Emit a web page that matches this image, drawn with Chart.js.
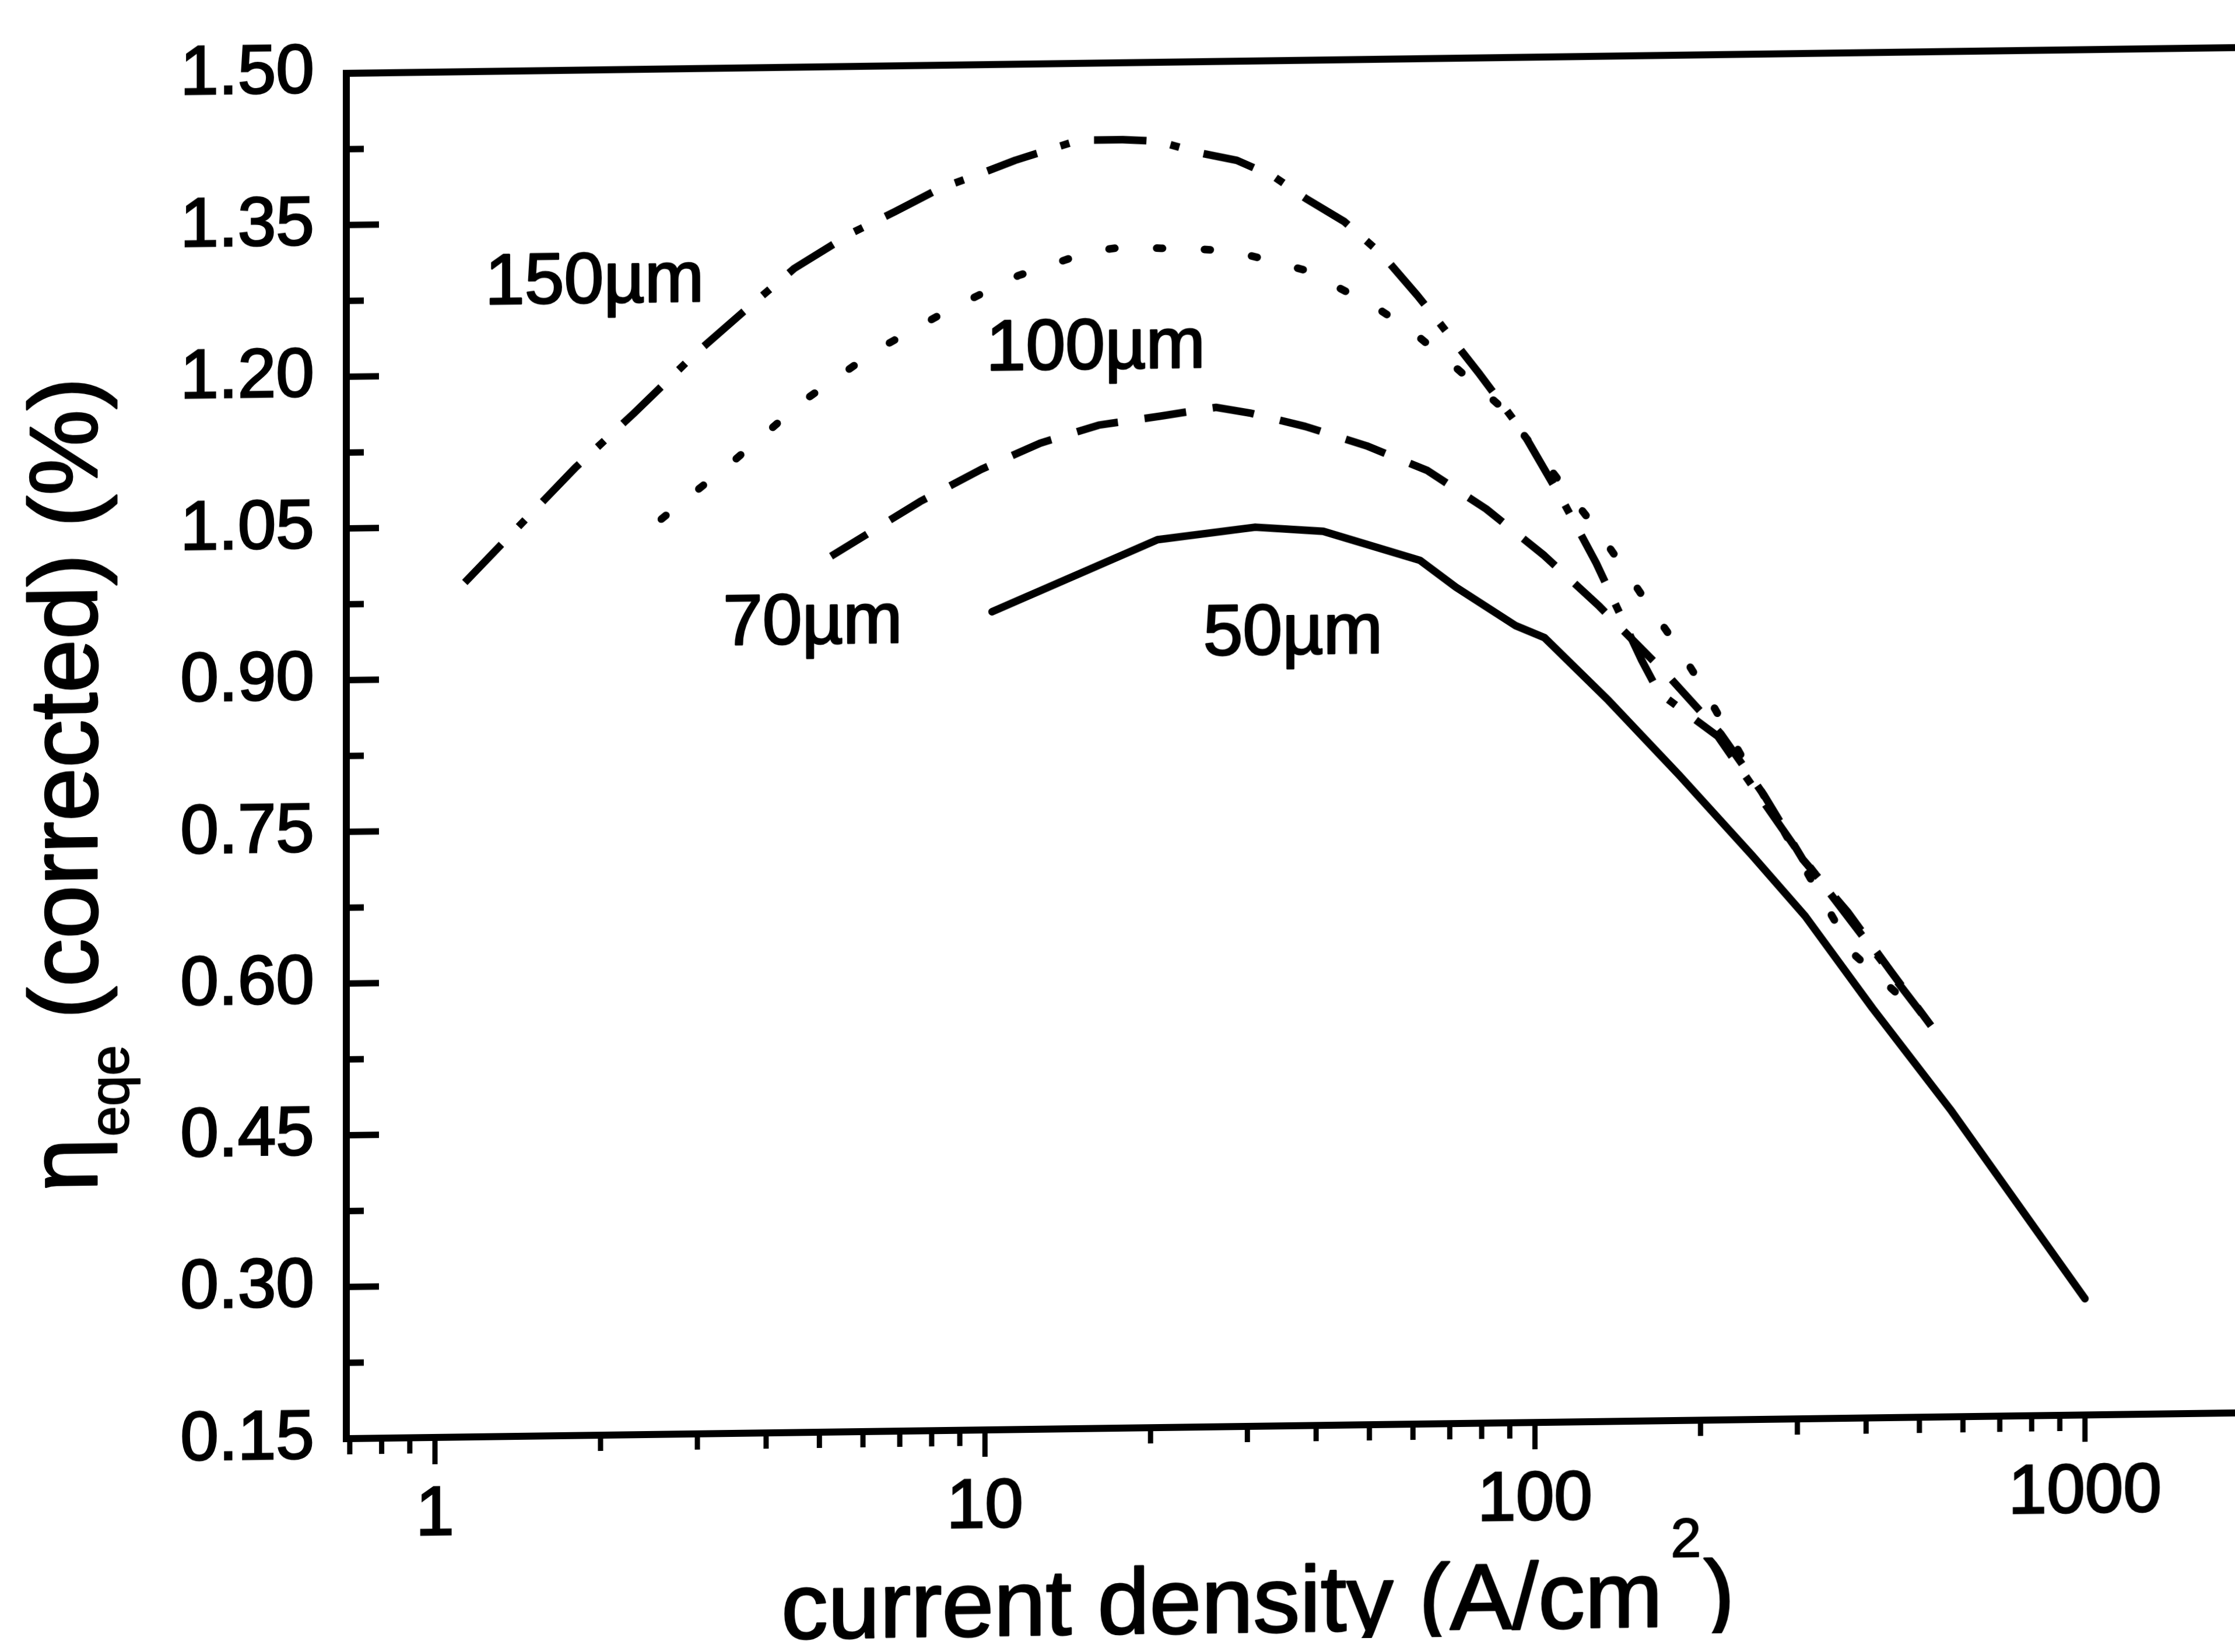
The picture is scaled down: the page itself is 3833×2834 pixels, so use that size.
<!DOCTYPE html>
<html>
<head>
<meta charset="utf-8">
<title>EQE vs current density</title>
<script src="https://cdn.jsdelivr.net/npm/chart.js@4.4.1/dist/chart.umd.min.js"></script>
<style>
  html, body { margin: 0; padding: 0; background: #fff; overflow: hidden; }
  /* the printed figure sits slightly tilted on the page */
  #plot { display: block; transform: skewY(-0.78deg); transform-origin: 594px 0; }
</style>
</head>
<body>
<canvas id="plot" width="3900" height="2834"></canvas>
<script>
const FONT = '"Liberation Sans", Arial, Helvetica, sans-serif';

// axis ticks
const xTickValues = [1, 10, 100, 1000];
const yTickValues = [0.15, 0.30, 0.45, 0.60, 0.75, 0.90, 1.05, 1.20, 1.35, 1.50];

// 50 µm device (solid)
const current50 = [10.3, 20.6, 31, 41.2, 61.8, 71.8, 92.3, 104, 136, 183, 248, 310, 411, 569, 1000];
const eqe50 = [0.959, 1.028, 1.039, 1.034, 1.004, 0.977, 0.938, 0.926, 0.863, 0.788, 0.708, 0.647, 0.555, 0.454, 0.265];

// 70 µm device (dashed)
const current70 = [5.25, 7.63, 9.86, 12.6, 16.1, 20.8, 26.3, 30.3, 38.2, 49.4, 63.6, 81.5, 104, 131, 175, 218, 261, 307, 371, 444, 525];
const eqe70 = [1.016, 1.069, 1.100, 1.125, 1.142, 1.150, 1.158, 1.152, 1.138, 1.118, 1.093, 1.054, 1.007, 0.956, 0.886, 0.828, 0.767, 0.703, 0.650, 0.591, 0.537];

// 100 µm device (dotted)
const current100 = [2.58, 3.50, 4.68, 6.34, 8.60, 11.5, 15.6, 18.05, 20.9, 24.1, 28.3, 32.7, 37.9, 44.2, 51.0, 59.3, 68.8, 87.9, 130, 144, 159, 176, 194, 212, 338, 383, 495];
const eqe100 = [1.055, 1.112, 1.170, 1.219, 1.258, 1.291, 1.314, 1.318, 1.316, 1.315, 1.312, 1.303, 1.293, 1.274, 1.256, 1.232, 1.203, 1.152, 1.031, 0.996, 0.961, 0.926, 0.890, 0.854, 0.657, 0.607, 0.551];

// 150 µm device (dash-dot)
const current150 = [1.133, 1.428, 1.80, 2.30, 2.96, 3.64, 4.50, 5.71, 6.87, 8.26, 9.56, 11.35, 14.8, 17.8, 20.6, 24.5, 28.7, 33.6, 38.4, 45.0, 52.7, 61.1, 67.4, 79.4, 94.9, 112.6, 129.2, 156.4, 168, 215, 300, 450, 505];
const eqe150 = [0.995, 1.051, 1.107, 1.160, 1.217, 1.259, 1.301, 1.335, 1.356, 1.378, 1.390, 1.405, 1.424, 1.424, 1.422, 1.410, 1.402, 1.385, 1.363, 1.340, 1.307, 1.266, 1.237, 1.187, 1.130, 1.060, 0.999, 0.902, 0.870, 0.826, 0.712, 0.585, 0.549];

// curve names, written next to each curve
const curveLabels = ['150\u00B5m', '100\u00B5m', '70\u00B5m', '50\u00B5m'];
const labelCurrent = [1.95, 15.9, 4.86, 36.3];
const labelEqe = [1.27, 1.198, 0.930, 0.913];

function toPoints(xs, ys) {
    return xs.map((x, i) => ({ x, y: ys[i] }));
}

function curve(label, xs, ys, dash, cap) {
    return {
        label,
        data: toPoints(xs, ys),
        borderColor: '#000',
        borderWidth: 13,
        borderDash: dash,
        borderCapStyle: cap,
        borderJoinStyle: 'round',
        pointRadius: 0,
        tension: 0,
        fill: false
    };
}

// filled text with a thin outline so it reads as heavy as the print
function heavyText(ctx, text, x, y, stroke) {
    ctx.lineWidth = stroke;
    ctx.lineJoin = 'round';
    ctx.strokeText(text, x, y);
    ctx.fillText(text, x, y);
}

// frame, inward y ticks, hanging x ticks, curve names and axis titles
const decorations = {
    id: 'decorations',
    afterDraw(chart) {
        const { ctx, chartArea: a, scales: { x, y } } = chart;
        ctx.save();
        ctx.strokeStyle = '#000';
        ctx.fillStyle = '#000';
        ctx.lineCap = 'butt';

        const seg = (x1, y1, x2, y2) => {
            ctx.beginPath();
            ctx.moveTo(x1, y1);
            ctx.lineTo(x2, y2);
            ctx.stroke();
        };

        ctx.lineWidth = 12;
        ctx.strokeRect(a.left, a.top, a.right - a.left, a.bottom - a.top);

        ctx.lineWidth = 11;
        yTickValues.forEach((v, i) => {
            const py = y.getPixelForValue(v);
            seg(a.left, py, a.left + 56, py);
            if (i < yTickValues.length - 1) {
                const pm = y.getPixelForValue(v + 0.075);
                seg(a.left, pm, a.left + 30, pm);
            }
        });

        ctx.lineWidth = 9;
        [0.1, 1, 10, 100, 1000].forEach(decade => {
            for (let k = 1; k <= 9; k++) {
                const v = k * decade;
                if (v < x.min || v > x.max) continue;
                const px = x.getPixelForValue(v);
                seg(px, a.bottom, px, a.bottom + (k === 1 ? 46 : 27));
            }
        });

        ctx.font = '122px ' + FONT;
        ctx.textAlign = 'center';
        ctx.textBaseline = 'alphabetic';
        curveLabels.forEach((t, i) => {
            heavyText(ctx, t, x.getPixelForValue(labelCurrent[i]), y.getPixelForValue(labelEqe[i]), 3);
        });

        // x title with superscript 2
        ctx.textAlign = 'left';
        let tx = 1340;
        const xBase = 2821;
        ctx.font = '160px ' + FONT;
        const xMain = 'current density (A/cm';
        heavyText(ctx, xMain, tx, xBase, 3);
        tx += ctx.measureText(xMain).width + 14;
        ctx.font = '94px ' + FONT;
        heavyText(ctx, '2', tx, xBase - 119, 2);
        tx += ctx.measureText('2').width + 4;
        ctx.font = '160px ' + FONT;
        heavyText(ctx, ')', tx, xBase, 3);

        // y title, rotated, with subscript eqe
        ctx.translate(166, 2038);
        ctx.rotate(-Math.PI / 2);
        let ty = 0;
        ctx.font = '165px ' + FONT;
        heavyText(ctx, '\u03B7', ty, 0, 3);
        ty += ctx.measureText('\u03B7').width + 2;
        ctx.font = '94px ' + FONT;
        heavyText(ctx, 'eqe', ty, 54, 2);
        ty += ctx.measureText('eqe').width;
        ctx.font = '165px ' + FONT;
        heavyText(ctx, ' (corrected) (%)', ty, 0, 3);

        ctx.restore();
    }
};

new Chart(document.getElementById('plot').getContext('2d'), {
    type: 'line',
    data: {
        datasets: [
            curve('50\u00B5m', current50, eqe50, [], 'round'),
            curve('70\u00B5m', current70, eqe70, [72, 46], 'butt'),
            curve('100\u00B5m', current100, eqe100, [10, 72], 'round'),
            curve('150\u00B5m', current150, eqe150, [90, 42, 16, 43], 'butt')
        ]
    },
    options: {
        responsive: false,
        devicePixelRatio: 1,
        animation: false,
        layout: { padding: { top: 121, right: 40, left: 0, bottom: 0 } },
        plugins: {
            legend: { display: false },
            tooltip: { enabled: false }
        },
        scales: {
            x: {
                type: 'logarithmic',
                min: 0.69,
                max: 2000,
                grid: { display: false, drawTicks: false },
                border: { display: false },
                afterBuildTicks: s => { s.ticks = xTickValues.map(v => ({ value: v })); },
                afterFit: s => { s.height = 366; },
                ticks: {
                    autoSkip: false,
                    maxRotation: 0,
                    padding: 64,
                    color: '#000',
                    textStrokeColor: '#000',
                    textStrokeWidth: 3,
                    font: { family: FONT, size: 118 },
                    callback: v => String(v)
                }
            },
            y: {
                min: 0.15,
                max: 1.5,
                grid: { display: false, drawTicks: false },
                border: { display: false },
                afterBuildTicks: s => { s.ticks = yTickValues.map(v => ({ value: v })); },
                afterFit: s => { s.width = 594; },
                ticks: {
                    padding: 55,
                    color: '#000',
                    textStrokeColor: '#000',
                    textStrokeWidth: 3,
                    font: { family: FONT, size: 118 },
                    callback: v => v.toFixed(2)
                }
            }
        }
    },
    plugins: [decorations]
});
</script>
</body>
</html>
